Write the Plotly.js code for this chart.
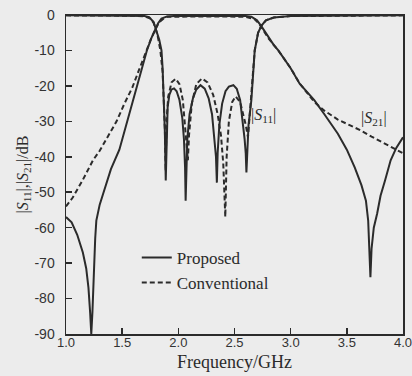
<!DOCTYPE html>
<html>
<head>
<meta charset="utf-8">
<script src="https://cdn.plot.ly/plotly-3.0.1.min.js"></script>
<style>
  html, body { margin: 0; padding: 0; background: #ececec; }
  #chart { width: 412px; height: 376px; }
</style>
</head>
<body>
<div id="chart"></div>
<script>
// ---- Data (frequency in GHz, magnitude in dB) ----
var propS21_f = [1.00, 1.05, 1.10, 1.15, 1.18, 1.20, 1.215, 1.225, 1.235, 1.245, 1.26, 1.27, 1.30, 1.33, 1.36, 1.40, 1.475, 1.52, 1.60, 1.66, 1.72, 1.76, 1.80, 1.82, 1.85, 1.90, 2.00, 2.30, 2.60, 2.65, 2.70, 2.74, 2.80, 2.85, 2.89, 3.00, 3.08, 3.21, 3.30, 3.42, 3.50, 3.57, 3.63, 3.67, 3.69, 3.70, 3.71, 3.72, 3.74, 3.77, 3.80, 3.84, 3.89, 3.94, 3.97, 4.00];
var propS21_db = [-57, -58.5, -62, -67, -71.5, -77, -84, -90, -84, -74, -63, -58, -53.5, -50.5, -47.6, -43.5, -38, -33, -24, -17, -10, -6.5, -4, -2.3, -1, -0.4, -0.2, -0.2, -0.3, -0.5, -1.5, -3.2, -6.3, -8.5, -10, -15, -19.4, -24, -28, -33.5, -38, -43, -48, -52.4, -58, -65, -74, -66, -60, -56, -51, -46.7, -41, -37.5, -36, -34.5];

var propS11_f = [1.00, 1.30, 1.60, 1.70, 1.74, 1.78, 1.80, 1.83, 1.85, 1.86, 1.87, 1.88, 1.888, 1.895, 1.905, 1.92, 1.94, 1.962, 1.985, 2.01, 2.035, 2.05, 2.06, 2.065, 2.07, 2.08, 2.10, 2.13, 2.16, 2.197, 2.235, 2.27, 2.30, 2.32, 2.335, 2.343, 2.35, 2.365, 2.39, 2.42, 2.45, 2.49, 2.52, 2.55, 2.575, 2.59, 2.60, 2.606, 2.615, 2.625, 2.65, 2.68, 2.71, 2.74, 2.78, 2.85, 3.00, 3.50, 4.00];
var propS11_db = [-0.1, -0.1, -0.2, -0.3, -0.6, -2, -4, -7, -10, -15, -24, -33, -46.7, -33, -26, -22.5, -21, -20.7, -21.5, -24, -29, -35, -43, -52.4, -43, -35, -28, -23.5, -21, -19.8, -20.8, -23.5, -28, -34, -40, -47.3, -39, -31, -25, -21.5, -20.2, -19.8, -20.8, -24, -30, -35, -39, -44.4, -38, -31, -24, -10, -5, -3, -1.5, -0.7, -0.3, -0.1, -0.1];

var convS21_f = [1.00, 1.06, 1.15, 1.24, 1.30, 1.36, 1.45, 1.52, 1.59, 1.65, 1.71, 1.76, 1.80, 1.83, 1.87, 1.90, 2.30, 2.60, 2.68, 2.72, 2.75, 2.80, 2.89, 3.00, 3.08, 3.15, 3.21, 3.30, 3.42, 3.52, 3.62, 3.72, 3.83, 3.92, 4.00];
var convS21_db = [-54, -51.5, -46.5, -41, -38.3, -35, -30, -25, -20.5, -15.5, -10.5, -6.5, -3.8, -2, -1, -0.5, -0.4, -0.5, -1.2, -2.5, -4, -6.5, -10, -15, -19.3, -22, -24.5, -27, -29.5, -31, -32.5, -34.3, -36.2, -37.8, -39];

var convS11_f = [1.00, 1.30, 1.60, 1.70, 1.75, 1.78, 1.80, 1.82, 1.84, 1.86, 1.87, 1.88, 1.887, 1.895, 1.91, 1.94, 1.977, 2.01, 2.04, 2.06, 2.075, 2.085, 2.095, 2.12, 2.16, 2.21, 2.26, 2.31, 2.35, 2.38, 2.40, 2.418, 2.43, 2.45, 2.48, 2.51, 2.55, 2.58, 2.60, 2.62, 2.635, 2.65, 2.68, 2.71, 2.74, 2.78, 2.85, 3.00, 3.50, 4.00];
var convS11_db = [-0.1, -0.1, -0.2, -0.4, -1, -2.2, -4, -6.5, -10, -16, -22, -32, -44, -30, -23, -19, -18, -19.5, -24, -31, -38, -41, -34, -25, -19.5, -17.9, -19, -22.5, -28, -34, -42, -57, -40, -30, -24.5, -23, -24.5, -28, -31, -34.5, -28, -22, -10, -5, -3, -1.5, -0.7, -0.3, -0.1, -0.1];

var seriesNames = ["Proposed", "Conventional"];
var xTicks = [1.0, 1.5, 2.0, 2.5, 3.0, 3.5, 4.0];
var xTickText = ["1.0", "1.5", "2.0", "2.5", "3.0", "3.5", "4.0"];
var yTicks = [0, -10, -20, -30, -40, -50, -60, -70, -80, -90];
var yTickText = ["0", "-10", "-20", "-30", "-40", "-50", "-60", "-70", "-80", "-90"];

// ---- Styling ----
var ink = "#2b2b2b";
var solid = {color: ink, width: 2};
var dashed = {color: ink, width: 2, dash: "5px,3px"};

var traces = [
  {x: propS21_f, y: propS21_db, mode: "lines", line: solid, name: seriesNames[0], legendgroup: "p", showlegend: true},
  {x: propS11_f, y: propS11_db, mode: "lines", line: solid, name: seriesNames[0], legendgroup: "p", showlegend: false},
  {x: convS21_f, y: convS21_db, mode: "lines", line: dashed, name: seriesNames[1], legendgroup: "c", showlegend: true},
  {x: convS11_f, y: convS11_db, mode: "lines", line: dashed, name: seriesNames[1], legendgroup: "c", showlegend: false}
];

var serif = "Liberation Serif, Times New Roman, serif";
var sans = "Liberation Sans, Arial, sans-serif";

var layout = {
  width: 412, height: 376,
  margin: {l: 66, r: 9, t: 15, b: 42},
  paper_bgcolor: "#ececec",
  plot_bgcolor: "#ececec",
  showlegend: true,
  legend: {
    x: 0.21, y: 0.295, xanchor: "left", yanchor: "top",
    bgcolor: "rgba(0,0,0,0)",
    font: {family: serif, size: 17, color: ink},
    itemwidth: 30,
    tracegroupgap: 0
  },
  xaxis: {
    range: [1, 4],
    tickmode: "array", tickvals: xTicks, ticktext: xTickText,
    ticks: "inside", ticklen: 6, tickwidth: 1.5, tickcolor: ink,
    showline: true, linecolor: ink, linewidth: 1.5, mirror: true,
    showgrid: false, zeroline: false,
    ticklabeloverflow: "allow",
    ticklabelstandoff: -4,
    tickfont: {family: sans, size: 13, color: "#333"},
    title: {text: "Frequency/GHz", font: {family: serif, size: 18, color: ink}, standoff: 6}
  },
  yaxis: {
    range: [-90, 0],
    tickmode: "array", tickvals: yTicks, ticktext: yTickText,
    ticks: "inside", ticklen: 6, tickwidth: 1.5, tickcolor: ink,
    showline: true, linecolor: ink, linewidth: 1.5, mirror: true,
    showgrid: false, zeroline: false,
    ticklabelstandoff: 7,
    tickfont: {family: sans, size: 14, color: "#333"},
    title: {text: "|<i>S</i><sub>11</sub>|,|<i>S</i><sub>21</sub>|/dB", font: {family: serif, size: 16, color: ink}, standoff: 2}
  },
  annotations: [
    {x: 2.756, y: -28.3, xref: "x", yref: "y", text: "|<i>S</i><sub>11</sub>|", showarrow: false, font: {family: serif, size: 16, color: ink}},
    {x: 3.744, y: -29.2, xref: "x", yref: "y", text: "|<i>S</i><sub>21</sub>|", showarrow: false, font: {family: serif, size: 16, color: ink}}
  ]
};

Plotly.newPlot("chart", traces, layout, {staticPlot: true, displayModeBar: false});
</script>
</body>
</html>
